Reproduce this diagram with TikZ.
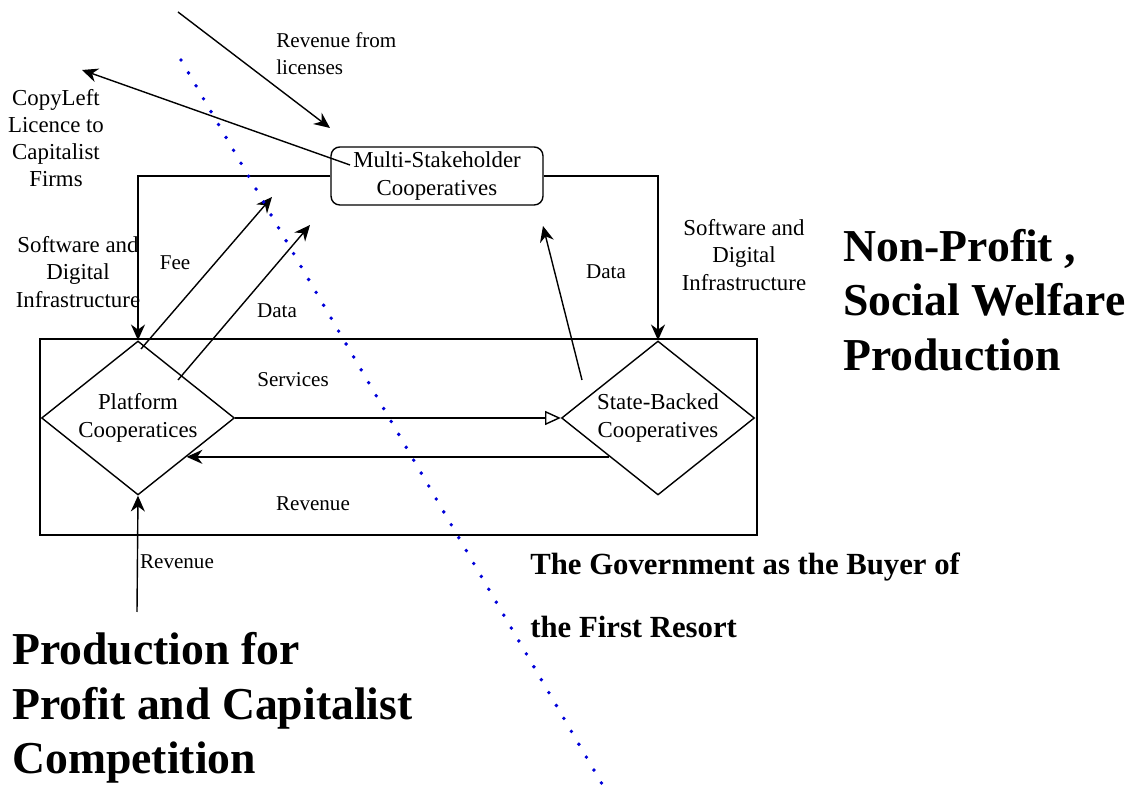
\documentclass[tikz,border=0pt]{standalone}
\usepackage{fontspec}
\setmainfont{Liberation Serif}
\usetikzlibrary{arrows.meta}
\usetikzlibrary{shapes.geometric}
\usetikzlibrary{positioning}

\begin{document}
\begin{tikzpicture}[
    x=0.02cm, y=-0.02cm,
    coop/.style={diamond, draw, thick, aspect=1.25, minimum width=3.86cm, minimum height=3.08cm,
      inner sep=0, align=center, font=\fontsize{13}{16}\selectfont},
    multi/.style={rectangle, draw, thick, rounded corners=5, minimum width=4.24cm,
      minimum height=1.16cm, inner sep=0, align=center, font=\fontsize{13}{16}\selectfont},
    frame/.style={rectangle, draw, thick, minimum width=14.34cm, minimum height=3.92cm, inner sep=0},
    lbl/.style={align=center, inner sep=0, font=\fontsize{13}{15.5}\selectfont},
    small/.style={lbl, font=\fontsize{12}{15.5}\selectfont},
    big/.style={align=left, inner sep=0, font=\fontsize{26}{31}\selectfont\bfseries},
    govtext/.style={align=left, inner sep=0, font=\fontsize{17.5}{36}\selectfont\bfseries},
    arrow/.style={thick, >={Stealth[length=9pt, width=8pt]}},
    pre/.style={arrow, <-},
    post/.style={arrow, ->},
    open/.style={arrow, -{Triangle[open, length=9pt, width=8pt]}},
    boundary/.style={blue!85!black, line width=2.2pt, line cap=round, dash pattern=on 0pt off 8.5pt}
  ]
  \useasboundingbox (0,0) rectangle (1133,786);

  % cooperatives
  \node[frame] (gov) at (398.5,437) {};
  \node[multi] (ms) at (437,176) {Multi-Stakeholder\\Cooperatives};
  \node[coop] (pc) at (138,418) {Platform\\Cooperatices};
  \node[coop] (sb) at (658,418) {State-Backed\\Cooperatives};

  % free ends
  \coordinate (licsrc) at (178,12);
  \coordinate (licdst) at (330,128);
  \coordinate (copysrc) at (350,165);
  \coordinate (firms) at (82,70);
  \coordinate (feesrc) at (141,349);
  \coordinate (feedst) at (272,197);
  \coordinate (datasrc) at (178,380);
  \coordinate (datadst) at (310,225);
  \coordinate (sbdata) at (582,380);
  \coordinate (msdata) at (543,226);
  \coordinate (buyer) at (137,612);
  \coordinate (divtop) at (181,60);
  \coordinate (divbot) at (602,784);

  \draw[post] (licsrc) -- (licdst);
  \draw[post] (copysrc) -- (firms);
  \draw[post] (ms.west) -| (pc.north);
  \draw[post] (ms.east) -| (sb.north);
  \draw[post] (feesrc) -- (feedst);
  \draw[post] (datasrc) -- (datadst);
  \draw[post] (sbdata) -- (msdata);
  \draw[open] (pc.east) -- (sb.west);
  \draw[post] (sb.south west) -- (pc.south east);
  \draw[post] (buyer) -- (pc.south);

  % labels
  \node[small, align=left, anchor=west] (licl) at (276,54) {Revenue from\\licenses};
  \node[lbl] (copyl) at (56,138) {CopyLeft\\Licence to\\Capitalist\\Firms};
  \node[lbl] (swl) at (78,272) {Software and\\Digital\\Infrastructure};
  \node[small] (feel) at (175,263) {Fee};
  \node[small] (datal) at (277,311) {Data};
  \node[small] (datar) at (606,272) {Data};
  \node[lbl] (swr) at (744,255) {Software and\\Digital\\Infrastructure};
  \node[small] (servl) at (293,380) {Services};
  \node[small] (revl) at (313,504) {Revenue};
  \node[small] (revb) at (177,562) {Revenue};

  \node[big, anchor=west] (nonprofit) at (843,300) {Non-Profit ,\\Social Welfare\\Production};
  \node[big, anchor=west] (profit) at (12,708) {Production for\\Profit and Capitalist\\Competition};
  \node[govtext, anchor=west] (buyerl) at (530,595) {The Government as the Buyer of\\the First Resort};

  % divide
  \draw[boundary] (divtop) -- (divbot);
\end{tikzpicture}
\end{document}
